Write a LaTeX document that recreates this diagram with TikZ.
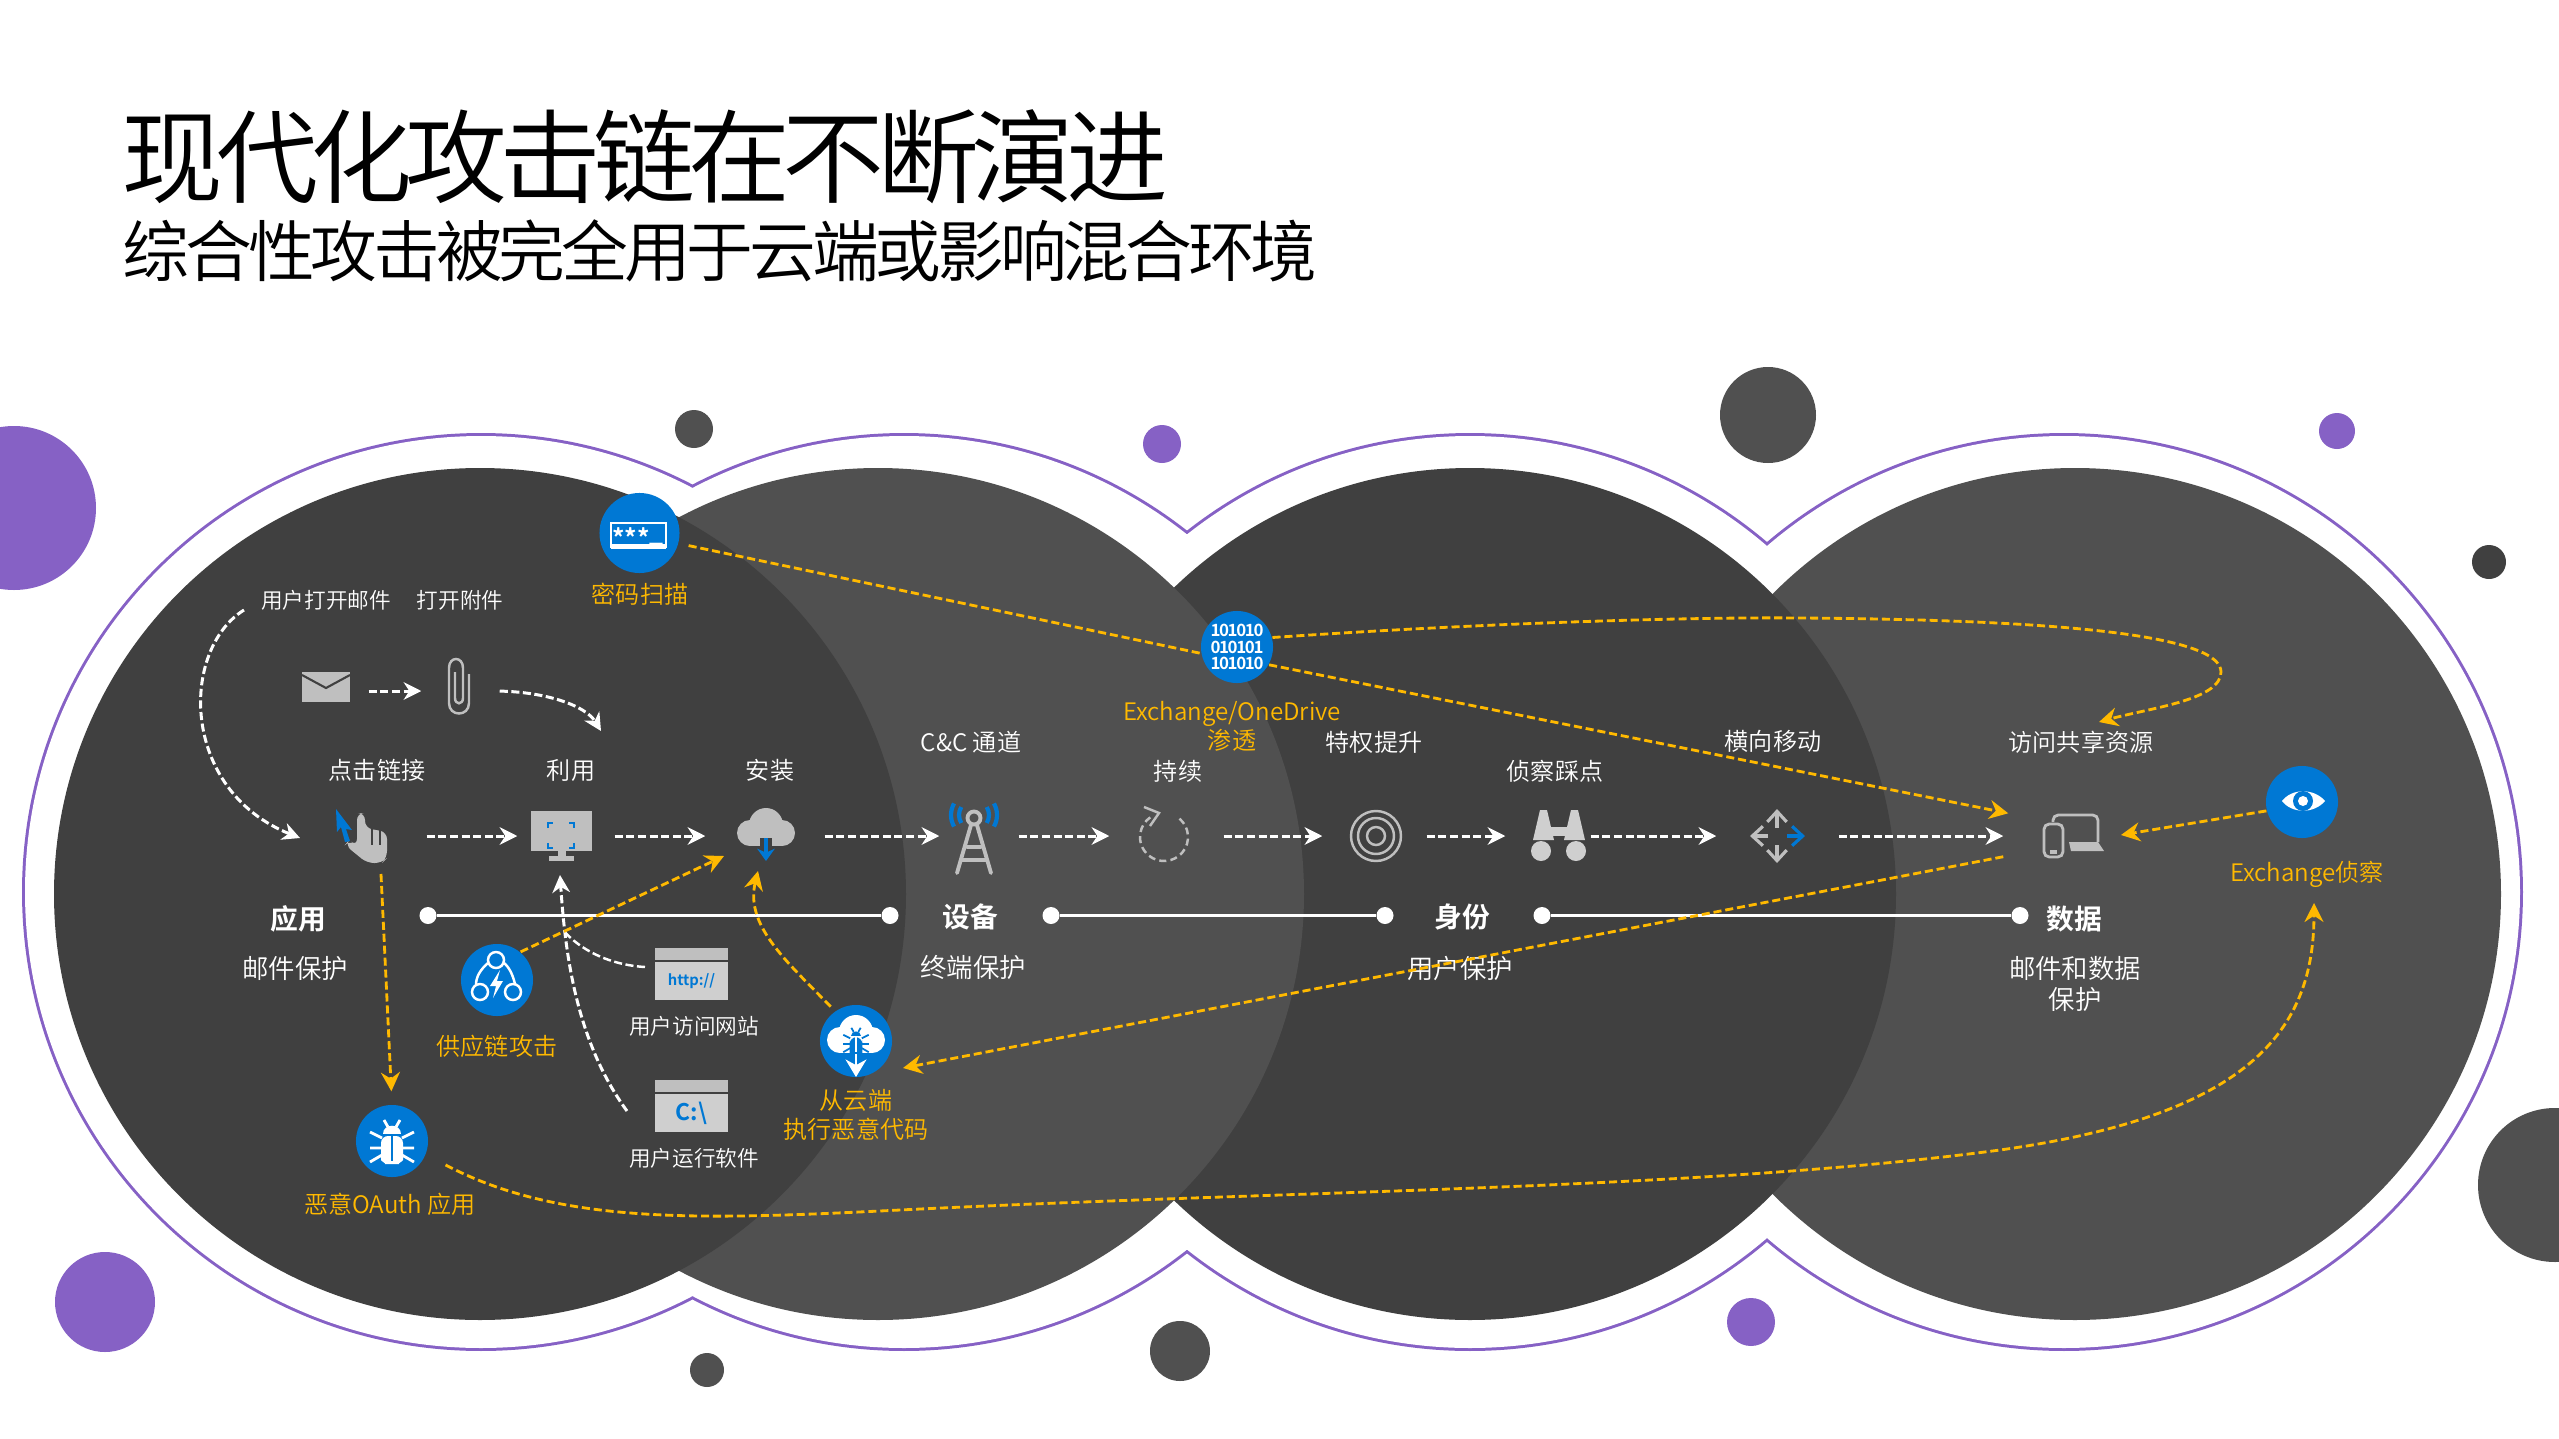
\documentclass[tikz,border=0pt]{standalone}
\usepackage{fontspec}
\usepackage{tikz}
\usetikzlibrary{arrows.meta}
\setmainfont{Noto Sans CJK SC}[UprightFont=* DemiLight,BoldFont=* Bold]

\definecolor{ringpurple}{HTML}{8661C5}
\definecolor{darkdisc}{HTML}{404040}
\definecolor{lightdisc}{HTML}{505050}
\definecolor{msblue}{HTML}{0078D4}
\definecolor{hotamber}{HTML}{FFB900}
\definecolor{icongray}{HTML}{BFBFBF}
\definecolor{panelgray}{HTML}{CFCFCF}

\tikzset{
  lab/.style={font=\fontsize{6.85}{8.3}\selectfont,text=white,inner sep=0,align=center},
  smalllab/.style={lab,font=\fontsize{6.15}{7.5}\selectfont},
  guardlab/.style={lab,font=\fontsize{7.5}{9}\selectfont},
  headlab/.style={lab,font=\fontsize{7.9}{9}\selectfont\bfseries},
  hotlab/.style={lab,text=hotamber},
  badge/.style={circle,fill=msblue,inner sep=0,minimum size=0.72cm},
  slot/.style={inner sep=0,minimum height=0.4cm},
  flow/.style={white,line width=0.85pt,dash pattern=on 2.3pt off 1pt,-{Stealth[length=5pt,width=5pt,inset=1.6pt]}},
  hotflow/.style={hotamber,line width=0.8pt,dash pattern=on 2.3pt off 1.1pt,-{Stealth[length=5.4pt,width=5.4pt,inset=1.8pt]}},
  railline/.style={white,line width=1pt},
  raildot/.style={circle,fill=white,inner sep=0,minimum size=0.17cm},
  windowbody/.style={fill=panelgray,inner sep=0,minimum width=0.73cm,minimum height=0.38cm,text=msblue},
  pics/bugicon/.style 2 args={code={
    \fill[#1] (-9,-7) .. controls (-9,-18) and (9,-18) .. (9,-7) -- cycle;
    \fill[#1,rounded corners=2] (-11,-5) -- (11,-5) -- (11,12) .. controls (11,20) and (5,23) .. (0,23) .. controls (-5,23) and (-11,20) .. (-11,12) -- cycle;
    \draw[#2,bugleg] (0,-5) -- (0,20);
    \draw[#1,bugleg] (-8,-21) -- (-4,-14) (8,-21) -- (4,-14);
    \draw[#1,bugleg] (-22,-9) -- (-10,-3) (-22,7) -- (-10,7) (-22,21) -- (-10,14);
    \draw[#1,bugleg] (22,-9) -- (10,-3) (22,7) -- (10,7) (22,21) -- (10,14);
  }},
  pics/cloudicon/.style={code={
    \fill[#1] (0,-8) circle (17) (-16,0) circle (13) (16,0) circle (13);
    \fill[#1] (-16,0) rectangle (16,13);
  }},
  bugleg/.style={line width=0.8pt}
}

\begin{document}
\begin{tikzpicture}[x=0.01cm,y=-0.01cm]
\path[use as bounding box,clip] (0,0) rectangle (2559,1439);
\fill[white] (0,0) rectangle (2559,1439);

% dots round the discs
\fill[ringpurple] (14,508) circle (82);
\fill[lightdisc] (694,429) circle (19);
\fill[ringpurple] (1162,444) circle (19);
\fill[lightdisc] (1768,415) circle (48);
\fill[ringpurple] (2337,431) circle (18);
\fill[darkdisc] (2489,562) circle (17);
\fill[lightdisc] (2555,1185) circle (77);
\fill[ringpurple] (105,1302) circle (50);
\fill[lightdisc] (707,1370) circle (17);
\fill[lightdisc] (1180,1351) circle (30);
\fill[ringpurple] (1751,1322) circle (24);

% purple outline, then the white inside of it
\draw[ringpurple,line width=1.7pt] (481,892) circle (456) (904,892) circle (456) (1470,892) circle (456) (2064,892) circle (456);
\fill[white] (481,892) circle (456) (904,892) circle (456) (1470,892) circle (456) (2064,892) circle (456);

% discs
\fill[lightdisc] (2075,894) circle (426);
\fill[darkdisc] (1470,894) circle (426);
\fill[lightdisc] (878,894) circle (426);
\fill[darkdisc] (480,894) circle (426);

% title
\node[anchor=west,inner sep=0,font=\fontsize{29}{30}\selectfont\addfontfeature{LetterSpace=-7.4}] (titlemain) at (121,157) {现代化攻击链在不断演进};
\node[anchor=west,inner sep=0,font=\fontsize{19}{20}\selectfont\addfontfeature{LetterSpace=-6.2}] (titlesub) at (122,251) {综合性攻击被完全用于云端或影响混合环境};

% places the white steps run between
\node[slot,minimum width=0.84cm] (mailslot) at (326,691) {};
\node[slot,minimum width=0.72cm] (clipslot) at (458,691) {};
\node[slot,minimum width=1.18cm] (handslot) at (367,836) {};
\node[slot,minimum width=0.96cm] (screenslot) at (566,836) {};
\node[slot,minimum width=1.18cm] (cloudslot) at (765,836) {};
\node[slot,minimum width=0.78cm] (towerslot) at (979,836) {};
\node[slot,minimum width=1.13cm] (loopslot) at (1166.5,836) {};
\node[slot,minimum width=1.03cm] (targetslot) at (1374.5,836) {};
\node[slot,minimum width=0.84cm] (binocslot) at (1548,836) {};
\node[slot,minimum width=1.21cm] (moveslot) at (1777.5,836) {};
\node[slot,minimum width=1.38cm] (deviceslot) at (2073,836) {};

% free ends
\coordinate (mailcurve) at (244,610);
\coordinate (handin) at (300,838);
\coordinate (installin) at (601,731);
\coordinate (webcurve) at (645,967);
\coordinate (runcurve) at (627,1111);
\coordinate (screenin) at (560,875);
\coordinate (webjoin) at (563,930);
\coordinate (handout) at (381,874);
\coordinate (cloudin) at (724,856);
\coordinate (cloudin2) at (758,871);
\coordinate (deviceeast) at (2121,835);
\coordinate (sharein) at (2099,722);
\coordinate (cloudbugin) at (903,1068);
\coordinate (reconin) at (2314,903);

% labels
\node[smalllab] (openmail) at (326,600) {用户打开邮件};
\node[smalllab] (openfile) at (460,600) {打开附件};
\node[hotlab] (spraylab) at (640,594) {密码扫描};
\node[lab] (clicklab) at (377,770) {点击链接};
\node[lab] (exploitlab) at (571,770) {利用};
\node[lab] (installlab) at (770,770) {安装};
\node[lab] (c2lab) at (971,742) {C\&C 通道};
\node[lab] (persistlab) at (1178,771) {持续};
\node[lab] (privlab) at (1374,742) {特权提升};
\node[lab] (reconlab) at (1555,771) {侦察踩点};
\node[lab] (latlab) at (1773,741) {横向移动};
\node[lab] (sharelab) at (2081,742) {访问共享资源};
\node[hotlab,align=center] (exfillab) at (1232,726) {Exchange/OneDrive\\渗透};
\node[hotlab] (exreconlab) at (2307,874) {Exchange侦察};
\node[hotlab] (supplylab) at (497,1046) {供应链攻击};
\node[hotlab] (oauthlab) at (390,1204) {恶意OAuth 应用};
\node[hotlab,align=center] (cloudbuglab) at (856,1115) {从云端\\执行恶意代码};
\node[smalllab] (weblab) at (694,1026) {用户访问网站};
\node[smalllab] (runlab) at (694,1158) {用户运行软件};

\node[headlab] (apphead) at (298,919) {应用};
\node[guardlab] (appguard) at (295,968) {邮件保护};
\node[headlab] (devhead) at (970,917) {设备};
\node[guardlab] (devguard) at (973,967) {终端保护};
\node[headlab] (idhead) at (1462,917) {身份};
\node[guardlab] (idguard) at (1460,968) {用户保护};
\node[headlab] (datahead) at (2074,919) {数据};
\node[guardlab,align=center] (dataguard) at (2075,984) {邮件和数据\\保护};

% rails
\node[raildot] (rail1a) at (428,915.5) {};
\node[raildot] (rail1b) at (890,915.5) {};
\node[raildot] (rail2a) at (1051,915.5) {};
\node[raildot] (rail2b) at (1385,915.5) {};
\node[raildot] (rail3a) at (1542,915.5) {};
\node[raildot] (rail3b) at (2020,915.5) {};
\draw[railline] (rail1a) -- (rail1b);
\draw[railline] (rail2a) -- (rail2b);
\draw[railline] (rail3a) -- (rail3b);

% white steps
\draw[flow] (mailslot) -- (clipslot);
\draw[flow,shorten <=0.05cm] (clipslot.east) .. controls (545,692) and (585,705) .. (installin);
\draw[flow] (mailcurve) .. controls (180,650) and (180,790) .. (handin);
\draw[flow] (handslot) -- (screenslot);
\draw[flow] (screenslot) -- (cloudslot);
\draw[flow] (cloudslot) -- (towerslot);
\draw[flow] (towerslot) -- (loopslot);
\draw[flow] (loopslot) -- (targetslot);
\draw[flow] (targetslot) -- (binocslot);
\draw[flow] (binocslot) -- (moveslot);
\draw[flow] (moveslot) -- (deviceslot);
\draw[flow] (runcurve) .. controls (575,1040) and (565,950) .. (screenin);
\draw[white,line width=0.7pt,dash pattern=on 2.3pt off 1pt] (webcurve) .. controls (610,965) and (580,950) .. (webjoin);

% blue badges
\node[badge,minimum size=0.8cm] (spray) at (639.5,533) {};
\node[badge] (binary) at (1237,647) {};
\node[badge] (eye) at (2302,802) {};
\node[badge] (supply) at (497,980) {};
\node[badge] (oauth) at (392,1141) {};
\node[badge] (cloudbug) at (856,1041) {};

% amber routes
\draw[hotflow,-,shorten <=0.1cm] (spray.-15) -- (binary.190);
\draw[hotflow] (binary.-29) -- ([xshift=0.05cm,yshift=0.02cm]deviceslot.north west);
\draw[hotflow] (binary.15) .. controls (1500,622) and (1700,617) .. (1800,618) .. controls (2100,620) and (2221,640) .. (2221,672) .. controls (2221,700) and (2150,708) .. (sharein);
\draw[hotflow] (eye.194) -- (deviceeast);
\draw[hotflow] (deviceslot.south west) -- (cloudbugin);
\draw[hotflow] (oauth.-24) ++(20,9) .. controls (560,1225) and (700,1220) .. (900,1210) .. controls (1300,1190) and (1700,1190) .. (2000,1150) .. controls (2250,1115) and (2314,1030) .. (reconin);
\draw[hotflow,shorten >=0.13cm] (handout) -- (oauth.north);
\draw[hotflow] (supply.50) -- (cloudin);
\draw[hotflow,shorten <=0.06cm] (cloudbug.125) .. controls (785,960) and (745,925) .. (cloudin2);

% password badge
\draw[white,line width=0.6pt] (611,523) rectangle (666,547);
\fill[white] (611,544) rectangle (666,549);
\node[anchor=base,inner sep=0,text=white,font=\fontsize{7}{7}\selectfont\bfseries] (stars) at (638,547) {***\raisebox{1.6pt}{\_}};

% binary badge
\node[inner sep=0,text=white,align=center,font=\fontsize{4.8}{4.6}\selectfont\bfseries\addfontfeature{LetterSpace=-8}] (bits) at (1237,647) {101010\\010101\\101010};

% eye badge
\fill[white] (2282,801) .. controls (2292,788) and (2314,788) .. (2325,801) .. controls (2314,814) and (2292,814) .. (2282,801);
\fill[msblue] (2303,801) circle (10);
\fill[white] (2303,801) circle (5);

% supply badge
\draw[white,line width=0.7pt] (496,960) circle (8) (480,992) circle (8) (513,992) circle (8);
\draw[white,line width=0.7pt] (488,963) .. controls (480,970) and (476,977) .. (476,985) (504,963) .. controls (510,968) and (513,976) .. (515,984);
\fill[white] (500,970) -- (490,986) -- (496,986) -- (493,998) -- (503,981) -- (497,981) -- cycle;

% bug badge
\pic at (392,1141) {bugicon={white}{msblue}};

% cloud bug badge
\pic at (856,1040) {cloudicon=white};
\pic[scale=0.58,bugleg/.style={line width=0.5pt}] at (856,1040) {bugicon={msblue}{white}};
\draw[white,line width=0.5pt,-{Stealth[length=5pt,width=6pt]}] (856,1054) -- (856,1077);

% mail
\fill[icongray] (302,672) rectangle (350,702);
\draw[darkdisc,line width=0.6pt] (302,675) -- (326,688) -- (350,675);

% paperclip
\draw[icongray,line width=0.7pt] (469,674) -- (469,703) .. controls (469,717) and (449,717) .. (449,703) -- (449,668) .. controls (449,656) and (463,656) .. (463,668) -- (463,698) .. controls (463,705) and (455,705) .. (455,698) -- (455,672);

% hand
\fill[icongray,rounded corners=2] (357,813) -- (365,813) -- (365,828) -- (387,832) -- (387,858) -- (382,863) -- (367,863) -- (345,845) -- (349,840) -- (357,846) -- cycle;
\draw[darkdisc,line width=0.3pt] (372,829) -- (372,845) (380,830) -- (380,845);
\fill[msblue] (336,809) -- (352,830) -- (346,829) -- (350,841) -- (345,842) -- (341,827) -- (337,832) -- cycle;

% screen
\fill[icongray] (531,811) rectangle (592,851);
\fill[icongray] (558,851) rectangle (566,856);
\fill[icongray] (549,856) rectangle (574,861);
\draw[msblue,line width=0.5pt] (548,828) -- (548,823) -- (553,823) (569,823) -- (574,823) -- (574,828) (548,843) -- (548,848) -- (553,848) (569,848) -- (574,848) -- (574,843);

% cloud
\pic at (766,833) {cloudicon=icongray};
\fill[darkdisc] (760,838) rectangle (772,847);
\draw[msblue,line width=0.9pt,-{Stealth[length=3.5pt,width=5pt]}] (766,838) -- (766,861);

% tower
\draw[icongray,line width=1.1pt] (974,818) circle (6.5);
\draw[icongray,line width=1.1pt,line cap=round] (971,825) -- (957,873) (977,825) -- (991,873) (967,847) -- (981,847) (961,860) -- (987,860);
\draw[msblue,line width=1.2pt] (974,815) ++(148:15) arc (148:212:15) (974,815) ++(150:23) arc (150:210:23);
\draw[msblue,line width=1.2pt] (974,815) ++(-32:15) arc (-32:32:15) (974,815) ++(-30:23) arc (-30:30:23);

% loop
\draw[icongray,line width=0.7pt,dash pattern=on 2pt off 1.2pt] (1164,837) ++(-50:24) arc (-50:235:24);
\draw[icongray,line width=0.7pt] (1144,807) -- (1159,813) -- (1150,826);

% target
\draw[icongray,line width=0.7pt] (1376,836) circle (25) (1376,836) circle (18) (1376,836) circle (9);

% binoculars
\fill[panelgray] (1540,810) -- (1547,810) -- (1554,840) -- (1533,840) -- cycle;
\fill[panelgray] (1571,810) -- (1578,810) -- (1585,840) -- (1564,840) -- cycle;
\fill[panelgray] (1548,827) rectangle (1570,836);
\fill[panelgray] (1541,851) circle (10) (1576,851) circle (10);

% arrows of the move
\draw[icongray,line width=0.9pt,-{Straight Barb[length=3pt,width=5.5pt]}] (1777,828) -- (1777,809);
\draw[icongray,line width=0.9pt,-{Straight Barb[length=3pt,width=5.5pt]}] (1777,845) -- (1777,863);
\draw[icongray,line width=0.9pt,-{Straight Barb[length=3pt,width=5.5pt]}] (1768,836) -- (1750,836);
\draw[msblue,line width=0.9pt,-{Straight Barb[length=3pt,width=5.5pt]}] (1787,836) -- (1805,836);

% devices
\draw[icongray,line width=0.8pt,rounded corners=1.5] (2053,822) -- (2053,815) -- (2098,815) -- (2098,842);
\fill[icongray] (2069,842) -- (2098,842) -- (2104,851) -- (2071,851) -- cycle;
\draw[icongray,line width=0.8pt,rounded corners=1.5] (2044,824) rectangle (2063,857);
\fill[icongray] (2050,850) rectangle (2057,854);

% address windows
\fill[icongray] (655,948) rectangle (728,960);
\node[windowbody,font=\fontsize{4.2}{5}\selectfont\bfseries] (webwin) at (691.5,981) {http://};
\fill[icongray] (655,1080) rectangle (728,1092);
\node[windowbody,font=\fontsize{6.5}{7}\selectfont\bfseries] (runwin) at (691.5,1113) {C:\textbackslash};
\end{tikzpicture}
\end{document}
